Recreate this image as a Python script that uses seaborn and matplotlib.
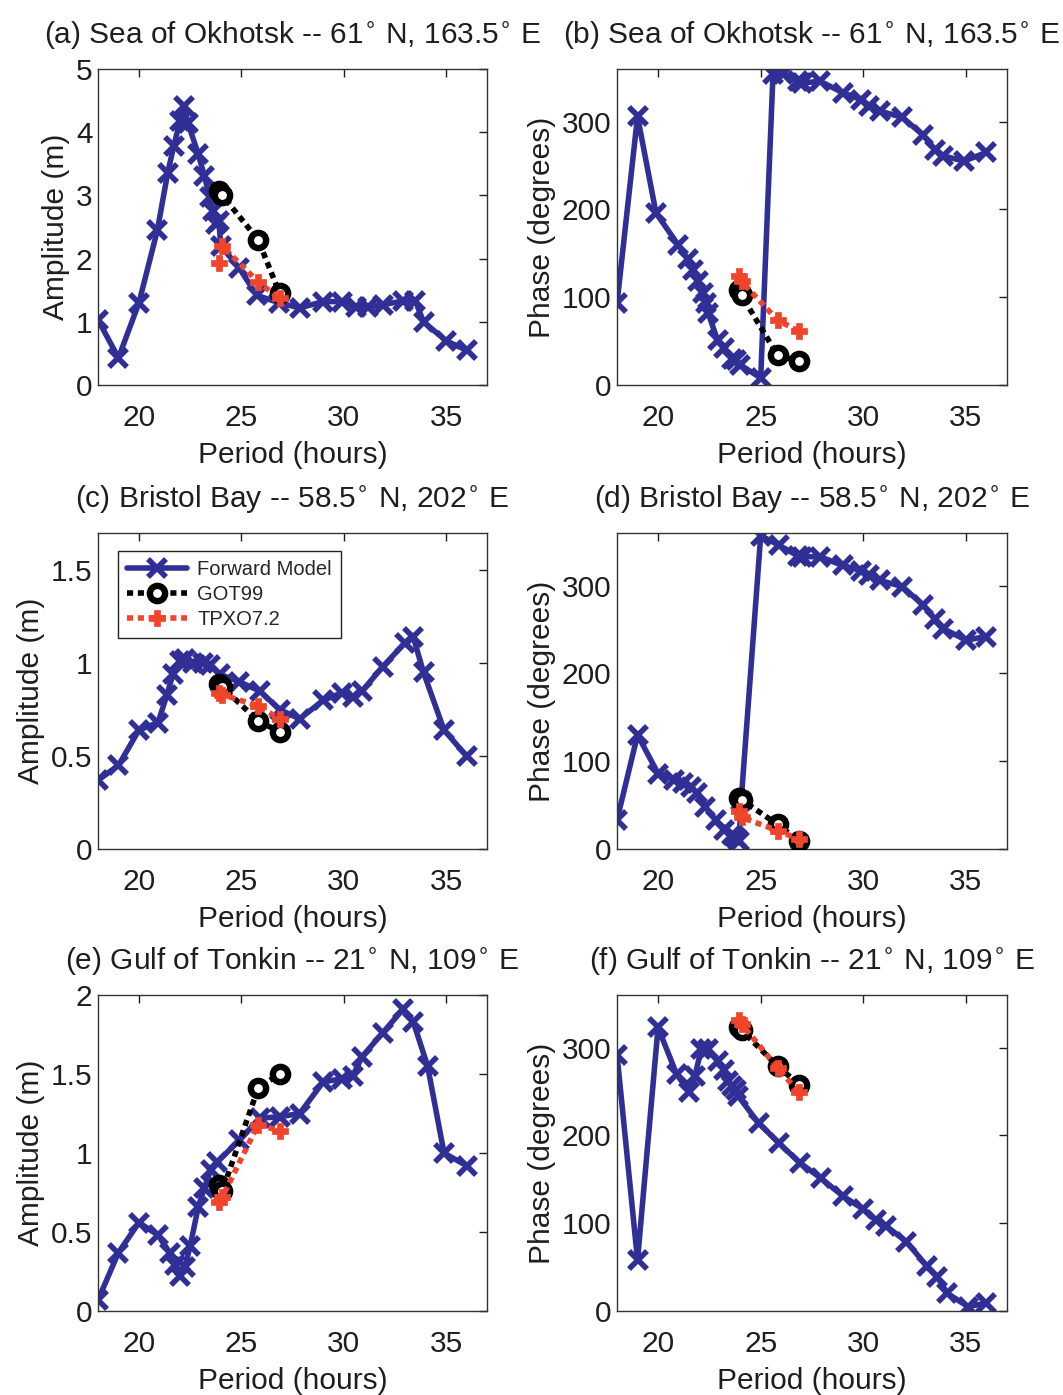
import numpy as np
import pandas as pd
import matplotlib
matplotlib.use("Agg")
import matplotlib.pyplot as plt
import seaborn as sns
from matplotlib.ticker import FuncFormatter

# ---------------- data ----------------
# tidal constituent periods used for GOT99 / TPXO7.2 (K1, P1, O1, Q1)
const_period = [23.93, 24.07, 25.82, 26.87]

# (a) Sea of Okhotsk amplitude
a_period = [18.0, 19.0, 20.0, 20.9, 21.4, 21.7, 22.0, 22.2, 22.4, 22.9, 23.2, 23.45,
            23.6, 23.75, 23.9, 24.0, 24.9, 25.75, 26.85, 27.85, 29.0, 29.9, 30.6,
            31.2, 31.9, 32.9, 33.5, 33.9, 35.0, 36.0]
a_fwd = [1.03, 0.43, 1.3, 2.45, 3.35, 3.78, 4.17, 4.41, 4.14, 3.65, 3.3, 2.98,
         2.75, 2.55, 2.6, 2.2, 1.85, 1.42, 1.3, 1.22, 1.32, 1.32, 1.23,
         1.23, 1.27, 1.33, 1.33, 1.0, 0.7, 0.55]
a_got = [3.07, 3.0, 2.30, 1.45]
a_tpxo = [1.93, 2.2, 1.63, 1.37]

# (b) Sea of Okhotsk phase
b_period = [18.0, 19.0, 19.9, 20.97, 21.46, 21.7, 21.95, 22.2, 22.36, 22.44, 22.9,
            23.2, 23.6, 23.8, 24.0, 25.0, 25.6, 26.1, 26.8, 27.0, 27.9, 29.0, 29.9,
            30.3, 30.8, 31.9, 32.9, 33.5, 33.9, 34.9, 36.0]
b_fwd = [93, 306, 196, 160, 143, 131, 118, 105, 93, 82, 51,
         42, 30, 29, 23, 8, 354, 354, 346, 344, 346, 333, 325,
         318, 312, 305, 285, 268, 261, 255, 265]
b_got = [108, 102, 34, 27]
b_tpxo = [124, 118, 74, 61]

# (c) Bristol Bay amplitude
c_period = [18.0, 19.0, 20.0, 20.93, 21.37, 21.66, 21.99, 22.23, 22.64, 23.13, 23.45,
            23.94, 24.9, 25.9, 26.87, 27.85, 29.0, 29.9, 30.46, 30.9, 31.9, 33.0,
            33.4, 33.9, 34.9, 36.0]
c_fwd = [0.37, 0.45, 0.64, 0.68, 0.83, 0.94, 1.01, 1.02, 1.0, 1.0, 0.99,
         0.94, 0.9, 0.85, 0.75, 0.70, 0.80, 0.84, 0.82, 0.85, 0.98, 1.11,
         1.14, 0.95, 0.64, 0.50]
c_got = [0.89, 0.87, 0.69, 0.63]
c_tpxo = [0.84, 0.83, 0.77, 0.70]

# (d) Bristol Bay phase
d_period = [18.0, 19.0, 20.0, 20.8, 21.2, 21.6, 21.9, 22.3, 22.8, 23.2, 23.6, 23.8,
            23.95, 24.05, 25.0, 25.9, 26.8, 27.0, 27.9, 29.0, 29.9, 30.3, 30.8,
            31.9, 32.9, 33.5, 33.9, 35.0, 36.0]
d_fwd = [33, 130, 86, 79, 75, 71, 64, 48, 33, 22, 16, 12,
         9, 55, 357, 346, 334, 333, 333, 323, 317, 312, 306,
         299, 278, 262, 251, 238, 242]
d_got = [58, 56, 28, 9]
d_tpxo = [43, 36, 21, 11]

# (e) Gulf of Tonkin amplitude
e_period = [18.0, 19.0, 20.0, 20.93, 21.5, 21.75, 22.0, 22.25, 22.5, 22.9, 23.2,
            23.5, 23.8, 24.9, 25.9, 26.9, 27.85, 29.0, 29.9, 30.45, 30.9, 31.9,
            32.9, 33.4, 34.1, 34.9, 36.0]
e_fwd = [0.07, 0.37, 0.56, 0.48, 0.37, 0.29, 0.22, 0.28, 0.41, 0.66, 0.78,
         0.89, 0.94, 1.08, 1.22, 1.23, 1.25, 1.45, 1.47, 1.49, 1.61, 1.76,
         1.91, 1.83, 1.55, 1.0, 0.92]
e_got = [0.80, 0.76, 1.41, 1.50]
e_tpxo = [0.69, 0.72, 1.18, 1.14]

# (f) Gulf of Tonkin phase
f_period = [18.0, 19.0, 20.0, 20.9, 21.5, 21.8, 22.1, 22.45, 22.9, 23.2, 23.4, 23.6,
            23.8, 23.9, 24.9, 25.9, 26.9, 27.95, 29.0, 30.0, 30.6, 31.1, 32.1,
            33.1, 33.6, 34.1, 35.1, 36.0]
f_fwd = [292, 58, 323, 270, 250, 268, 298, 298, 285, 275, 262, 256,
         252, 245, 214, 191, 169, 151, 131, 116, 104, 97, 79,
         51, 39, 20, 5, 9]
f_got = [323, 320, 279, 258]
f_tpxo = [331, 327, 277, 249]

titles = [
    r"(a) Sea of Okhotsk -- 61$^{\circ}$ N, 163.5$^{\circ}$ E",
    r"(b) Sea of Okhotsk -- 61$^{\circ}$ N, 163.5$^{\circ}$ E",
    r"(c) Bristol Bay -- 58.5$^{\circ}$ N, 202$^{\circ}$ E",
    r"(d) Bristol Bay -- 58.5$^{\circ}$ N, 202$^{\circ}$ E",
    r"(e) Gulf of Tonkin -- 21$^{\circ}$ N, 109$^{\circ}$ E",
    r"(f) Gulf of Tonkin -- 21$^{\circ}$ N, 109$^{\circ}$ E",
]
series_names = ["Forward Model", "GOT99", "TPXO7.2"]
x_ticks = [20, 25, 30, 35]

# ---------------- style ----------------
sns.set_theme(style="white")
plt.rcParams["font.family"] = ["Liberation Sans", "DejaVu Sans"]
plt.rcParams["mathtext.fontset"] = "dejavusans"
plt.rcParams["axes.edgecolor"] = "#333333"
plt.rcParams["axes.linewidth"] = 1.0

BLUE = "#2F2F96"
RED = "#F0452A"
BLACK = "#000000"
TXT = "#1e1e1e"
FS = 21.5

fig = plt.figure(figsize=(10.63, 13.95), dpi=100)
W, H = 1063, 1395
cols = [(98, 487), (617, 1007)]
rows = [(69, 385), (533, 849), (995, 1311)]

panels = [
    (a_period, a_fwd, a_got, a_tpxo, (0, 5), [0, 1, 2, 3, 4, 5], "Amplitude (m)"),
    (b_period, b_fwd, b_got, b_tpxo, (0, 360), [0, 100, 200, 300], "Phase (degrees)"),
    (c_period, c_fwd, c_got, c_tpxo, (0, 1.7), [0, 0.5, 1, 1.5], "Amplitude (m)"),
    (d_period, d_fwd, d_got, d_tpxo, (0, 360), [0, 100, 200, 300], "Phase (degrees)"),
    (e_period, e_fwd, e_got, e_tpxo, (0, 2), [0, 0.5, 1, 1.5, 2], "Amplitude (m)"),
    (f_period, f_fwd, f_got, f_tpxo, (0, 360), [0, 100, 200, 300], "Phase (degrees)"),
]

dots = (0, (1.1, 0.85))

for i, (per, fwd, got, tpx, ylim, yticks, ylab) in enumerate(panels):
    r, c = divmod(i, 2)
    x0, x1 = cols[c]
    y0, y1 = rows[r]
    ax = fig.add_axes([x0 / W, 1 - y1 / H, (x1 - x0) / W, (y1 - y0) / H])

    sns.lineplot(x=per, y=fwd, ax=ax, color=BLUE, linewidth=4.0, marker="x",
                 markersize=13, markeredgewidth=4.0, markeredgecolor=BLUE,
                 sort=False, estimator=None, label=series_names[0], zorder=2)
    sns.lineplot(x=const_period, y=got, ax=ax, color=BLACK, linewidth=4.0,
                 linestyle=dots, marker="o", markersize=11, markeredgewidth=4.6,
                 markeredgecolor=BLACK, markerfacecolor="white",
                 sort=False, estimator=None, label=series_names[1], zorder=3)
    sns.lineplot(x=const_period, y=tpx, ax=ax, color=RED, linewidth=4.0,
                 linestyle=dots, marker="P", markersize=12, markeredgewidth=0.5,
                 markeredgecolor=RED, markerfacecolor=RED,
                 sort=False, estimator=None, label=series_names[2], zorder=4)

    ax.set_xlim(18, 37)
    ax.set_ylim(*ylim)
    ax.set_xticks(x_ticks)
    ax.set_yticks(yticks)
    ax.yaxis.set_major_formatter(FuncFormatter(lambda v, p: f"{v:g}"))
    ax.tick_params(axis="both", which="major", direction="in", length=6, width=1,
                   top=True, right=True, labelsize=FS, colors=TXT)
    ax.tick_params(axis="x", pad=14)
    ax.tick_params(axis="y", pad=4)
    ax.set_xlabel("Period (hours)", fontsize=FS, labelpad=6, color=TXT)
    ax.set_ylabel(ylab, fontsize=FS, labelpad=4, color=TXT)
    ax.set_title(titles[i], fontsize=FS, pad=19, color=TXT)
    for s in ax.spines.values():
        s.set_visible(True)
        s.set_color("#333333")

    leg = ax.get_legend()
    if i == 2:
        lg = ax.legend(loc="upper left", fontsize=14.5, frameon=True, fancybox=False,
                       edgecolor="#222222", framealpha=1, borderpad=0.45,
                       handlelength=3.0, handletextpad=0.5, labelspacing=0.3,
                       bbox_to_anchor=(0.025, 0.975))
        lg.get_frame().set_linewidth(1.0)
    elif leg is not None:
        leg.remove()

fig.savefig("out.png", dpi=100)
